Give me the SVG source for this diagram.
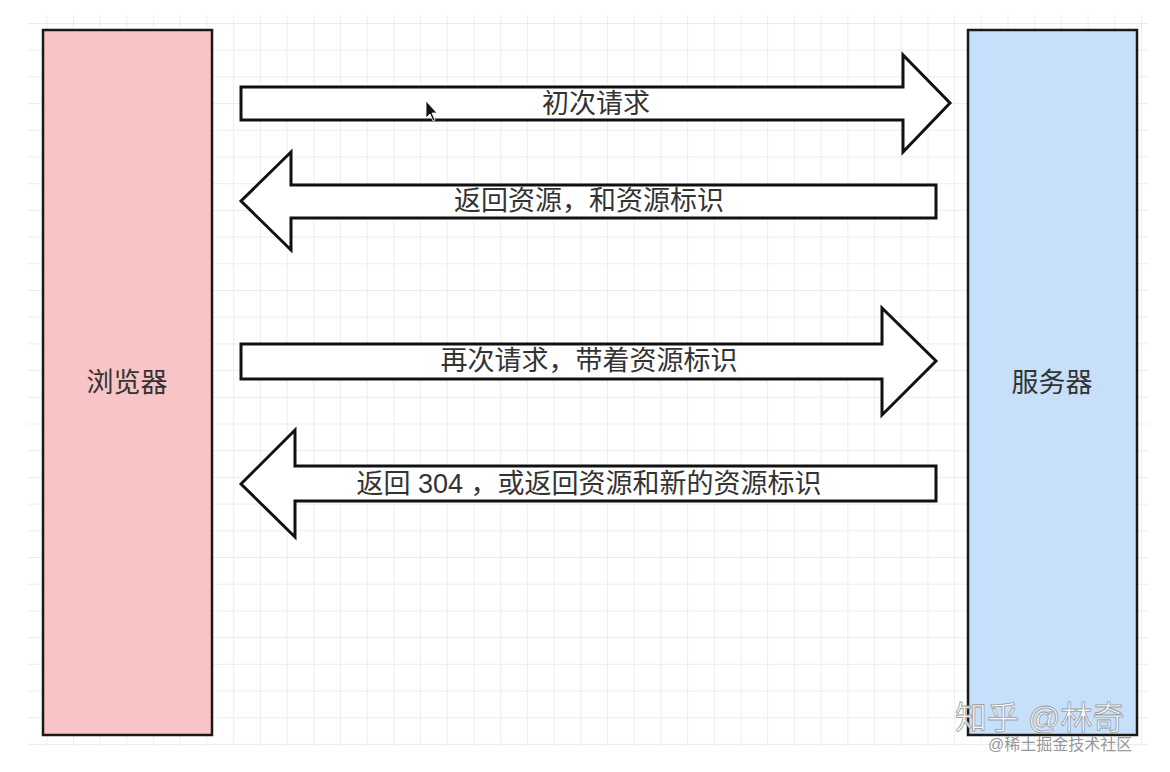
<svg xmlns="http://www.w3.org/2000/svg" width="1170" height="772" viewBox="0 0 1170 772">
  <defs>
    <pattern id="grid" x="19.6" y="23" width="26.7" height="26.7" patternUnits="userSpaceOnUse">
      <path d="M0,0 H26.7 M0,0 V26.7" fill="none" stroke="#e6e6e6" stroke-width="1.3"/>
    </pattern>
    <style>
      .node { stroke: #1a1a1a; stroke-width: 2.5; }
      .arrow { fill: #ffffff; stroke: #111111; stroke-width: 3; stroke-linejoin: miter; }
      .lbl { font-family: "Liberation Sans", "Noto Sans CJK SC", sans-serif; font-size: 27px; fill: #333333; text-anchor: middle; dominant-baseline: central; }
      .wm1 { font-family: "Liberation Sans", "Noto Sans CJK SC", sans-serif; font-size: 32px; fill: #ffffff; fill-opacity: 0.85; stroke: #9a9a9a; stroke-width: 0.8; }
      .wm2 { font-family: "Liberation Sans", "Noto Sans CJK SC", sans-serif; font-size: 16px; fill: #8a8a8a; fill-opacity: 0.9; }
    </style>
  </defs>
  <rect width="1170" height="772" fill="#ffffff"/>
  <rect x="28" y="15" width="1120" height="731" fill="url(#grid)"/>

  <g id="browser">
    <rect class="node" x="43" y="30" width="169" height="705" fill="#f9c4c6"/>
    <text class="lbl" x="127" y="383">浏览器</text>
  </g>
  <g id="server">
    <rect class="node" x="968" y="30" width="169" height="705" fill="#c6dffa"/>
    <text class="lbl" x="1052" y="383">服务器</text>
  </g>

  <g id="connectors">
    <g id="arrow1">
      <path class="arrow" d="M241,87 L903,87 L903,55 L950,103 L903,152 L903,120 L241,120 Z"/>
      <text class="lbl" x="596" y="104">初次请求</text>
    </g>
    <g id="arrow2">
      <path class="arrow" d="M936,185 L291,185 L291,152 L241,201 L291,250 L291,218 L936,218 Z"/>
      <text class="lbl" x="589" y="201">返回资源，和资源标识</text>
    </g>
    <g id="arrow3">
      <path class="arrow" d="M241,344 L882,344 L882,308 L936,361 L882,415 L882,379 L241,379 Z"/>
      <text class="lbl" x="589" y="361">再次请求，带着资源标识</text>
    </g>
    <g id="arrow4">
      <path class="arrow" d="M936,466 L295,466 L295,430 L241,484 L295,537 L295,501 L936,501 Z"/>
      <text class="lbl" x="589" y="484">返回 304 ，或返回资源和新的资源标识</text>
    </g>
  </g>

  <path d="M426,101 L426,118 L430,114 L433,121 L435,120 L432,113 L437,113 Z" fill="#111111" stroke="#ffffff" stroke-width="0.8"/>

  <text class="wm1" x="955" y="729">知乎 @林奇</text>
  <text class="wm2" x="988" y="750">@稀土掘金技术社区</text>
</svg>
